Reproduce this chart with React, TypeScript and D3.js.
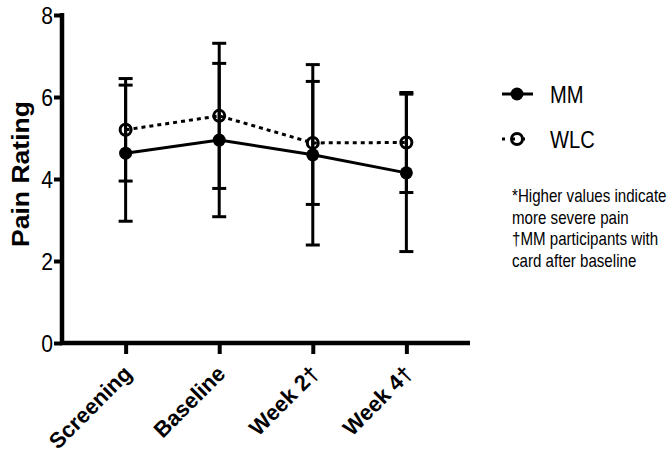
import React, { useEffect, useRef } from "react";
import * as d3 from "d3";

const categories = ["Screening", "Baseline", "Week 2†", "Week 4†"];
const mmMean = [4.63, 4.95, 4.59, 4.15];
const mmErr = [1.66, 1.87, 2.2, 1.92];
const wlcMean = [5.2, 5.54, 4.88, 4.89];
const wlcErr = [1.25, 1.77, 1.5, 1.22];
const yTicks = [0, 2, 4, 6, 8];
const noteLines = [
  "*Higher values indicate",
  "more severe pain",
  "†MM participants with",
  "card after baseline",
];

const W = 669;
const H = 458;
const FONT = "'Liberation Sans', Arial, sans-serif";

const App = () => {
  const ref = useRef<SVGSVGElement>(null);

  useEffect(() => {
    const svg = d3.select(ref.current);
    svg.selectAll("*").remove();

    const y = d3.scaleLinear().domain([0, 8]).range([343, 15]);
    const x = d3.scalePoint<string>().domain(categories).range([62, 470]).padding(0.68);

    // y axis
    const gy = svg
      .append("g")
      .attr("transform", "translate(62,0)")
      .call(d3.axisLeft(y).tickValues(yTicks).tickSize(8).tickSizeOuter(0).tickPadding(1));
    gy.select(".domain").attr("stroke", "#000").attr("stroke-width", 4.5).attr("d", `M0,${y(8) - 2}V${y(0) + 2}`);
    gy.selectAll(".tick line").attr("stroke", "#000").attr("stroke-width", 4);
    gy.selectAll(".tick text")
      .attr("fill", "#000")
      .attr("font-family", FONT)
      .attr("font-size", 24)
      .attr("dy", "0.36em")
      .each(function () {
        const t = d3.select(this);
        const xx = +t.attr("x");
        t.attr("transform", `translate(${xx},0) scale(0.88,1)`).attr("x", 0);
      });

    // x axis
    const gx = svg
      .append("g")
      .attr("transform", `translate(0,${y(0)})`)
      .call(d3.axisBottom(x).tickSize(11).tickSizeOuter(0).tickPadding(0));
    gx.select(".domain").attr("stroke", "#000").attr("stroke-width", 4.5).attr("d", "M60,0H470");
    gx.selectAll(".tick line").attr("stroke", "#000").attr("stroke-width", 4);
    gx.selectAll(".tick text")
      .attr("fill", "#000")
      .attr("font-family", FONT)
      .attr("font-size", 22)
      .attr("font-weight", "bold")
      .attr("text-anchor", "end")
      .attr("y", 0)
      .attr("dy", 0)
      .attr("transform", "translate(7,32) rotate(-45)");

    // y title
    svg
      .append("text")
      .text("Pain Rating")
      .attr("transform", `translate(28.5,${(101 + 247) / 2}) rotate(-90)`)
      .attr("text-anchor", "middle")
      .attr("font-family", FONT)
      .attr("font-weight", "bold")
      .attr("font-size", 23)
      .attr("textLength", 146)
      .attr("lengthAdjust", "spacingAndGlyphs");

    const series = [
      { mean: mmMean, err: mmErr, dash: null },
      { mean: wlcMean, err: wlcErr, dash: "4,4" },
    ];

    // error bars
    series.forEach((s) => {
      const g = svg.append("g").attr("stroke", "#000").attr("stroke-width", 3);
      categories.forEach((c, i) => {
        const cx = x(c)!;
        const top = y(s.mean[i] + s.err[i]);
        const bot = y(s.mean[i] - s.err[i]);
        g.append("line").attr("x1", cx).attr("x2", cx).attr("y1", top).attr("y2", bot);
        g.append("line").attr("x1", cx - 7).attr("x2", cx + 7).attr("y1", top).attr("y2", top);
        g.append("line").attr("x1", cx - 7).attr("x2", cx + 7).attr("y1", bot).attr("y2", bot);
      });
    });

    const line = d3
      .line<number>()
      .x((_, i) => x(categories[i])!)
      .y((d) => y(d));

    series.forEach((s) => {
      svg
        .append("path")
        .attr("d", line(s.mean))
        .attr("fill", "none")
        .attr("stroke", "#000")
        .attr("stroke-width", 3)
        .attr("stroke-dasharray", s.dash);
    });

    // markers
    svg
      .selectAll("circle.mm")
      .data(mmMean)
      .enter()
      .append("circle")
      .attr("class", "mm")
      .attr("cx", (_, i) => x(categories[i])!)
      .attr("cy", (d) => y(d))
      .attr("r", 6.5)
      .attr("fill", "#000");
    svg
      .selectAll("circle.wlc")
      .data(wlcMean)
      .enter()
      .append("circle")
      .attr("class", "wlc")
      .attr("cx", (_, i) => x(categories[i])!)
      .attr("cy", (d) => y(d))
      .attr("r", 5.5)
      .attr("fill", "none")
      .attr("stroke", "#000")
      .attr("stroke-width", 3);

    // legend
    const lg = svg.append("g");
    lg.append("line").attr("x1", 502).attr("x2", 533).attr("y1", 94).attr("y2", 94).attr("stroke", "#000").attr("stroke-width", 3);
    lg.append("circle").attr("cx", 517).attr("cy", 94).attr("r", 6.5).attr("fill", "#000");
    lg.append("line").attr("x1", 502).attr("x2", 528).attr("y1", 139).attr("y2", 139).attr("stroke", "#000").attr("stroke-width", 3).attr("stroke-dasharray", "3,7");
    lg.append("circle").attr("cx", 517).attr("cy", 139).attr("r", 5.5).attr("fill", "none").attr("stroke", "#000").attr("stroke-width", 3);
    [
      { t: "MM", yy: 103 },
      { t: "WLC", yy: 148 },
    ].forEach((d) => {
      lg.append("text")
        .text(d.t)
        .attr("transform", `translate(550,${d.yy}) scale(0.84,1)`)
        .attr("font-family", FONT)
        .attr("font-size", 24);
    });

    noteLines.forEach((t, i) => {
      svg
        .append("text")
        .text(t)
        .attr("transform", `translate(512,${202 + i * 21.5}) scale(0.84,1)`)
        .attr("font-family", FONT)
        .attr("font-size", 18);
    });
  }, []);

  return (
    <svg ref={ref} width={W} height={H} style={{ display: "block", position: "absolute", left: 0, top: 0, background: "#fff" }} />
  );
};

export default App;
